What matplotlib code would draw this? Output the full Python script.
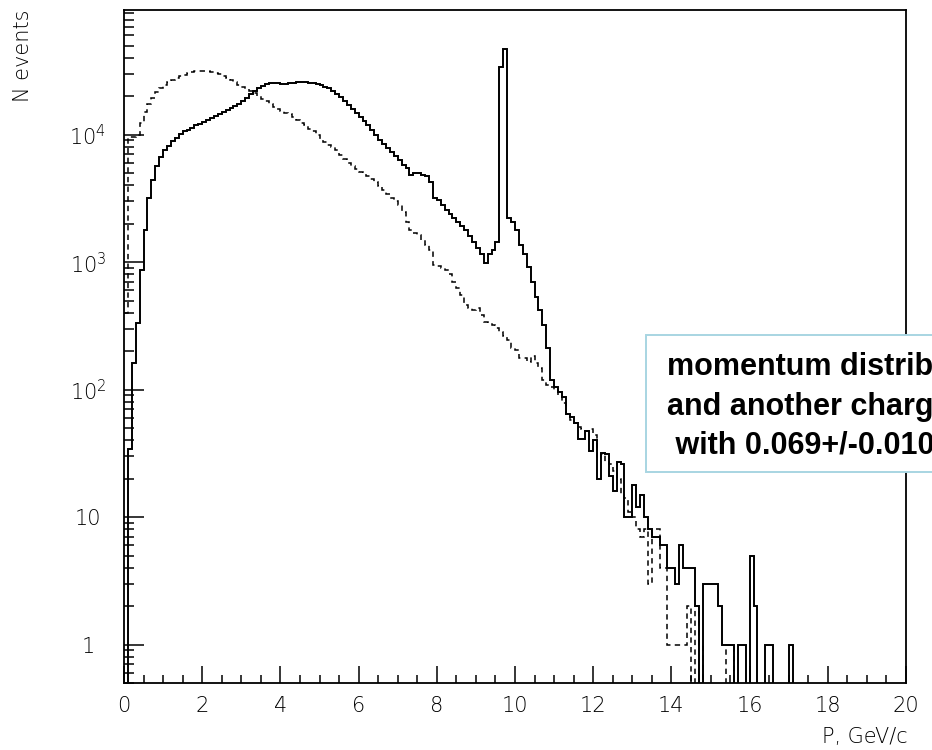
import numpy as np
import matplotlib
matplotlib.use("Agg")
import matplotlib.pyplot as plt
from matplotlib.patches import Rectangle
from matplotlib.ticker import LogLocator, FixedLocator, NullFormatter

# momentum bins, 0.1 GeV/c wide, 0..20 GeV/c
P_MIN = 0.0
BIN_W = 0.1
N_BINS = 200

# solid histogram (counts per bin)
solid = [
    0, 34, 163, 335, 875, 1800, 3200, 4440, 5720, 6720,
    7630, 8200, 8980, 9470, 10200, 10600, 10900, 11300, 11800, 12200,
    12600, 13100, 13600, 14100, 14600, 15100, 15700, 16300, 16900, 17500,
    18500, 19500, 21000, 22100, 23400, 24200, 25100, 25600, 25600, 25600,
    25100, 25100, 25600, 25600, 26000, 26000, 26000, 25600, 25600, 25100,
    24700, 23800, 23400, 22100, 21000, 19900, 18500, 17200, 16000, 14900,
    13800, 12900, 11800, 10900, 10000, 9140, 8500, 7910, 7360, 6840,
    6360, 5820, 5510, 4860, 5040, 5040, 4860, 4770, 4280, 3200,
    3090, 2820, 2580, 2400, 2230, 2080, 1930, 1800, 1610, 1450,
    1300, 1150, 990, 1150, 1250, 1450, 34100, 47300, 2230, 2080,
    1800, 1370, 1150, 920, 700, 536, 424, 323, 214, 120,
    104, 95, 88, 64, 61, 55, 41, 41, 47, 33,
    40, 20, 32, 31, 21, 16, 27, 26, 10, 10,
    18, 12, 15, 10, 8, 7, 7, 6, 6, 4,
    4, 3, 6, 4, 4, 4, 2, 0, 3, 3,
    3, 3, 2, 1, 1, 1, 0, 1, 1, 0,
    5, 2, 0, 0, 1, 1, 0, 0, 0, 0,
    1, 0, 0, 0, 0, 0, 0, 0, 0, 0,
    0, 0, 0, 0, 0, 0, 0, 0, 0, 0,
    0, 0, 0, 0, 0, 0, 0, 0, 0, 0,
]

# dashed histogram (counts per bin)
dashed = [
    402, 9650, 9650, 10000, 12400, 15100, 17500, 19500, 21700, 23400,
    24700, 26000, 27000, 28000, 29000, 29500, 30600, 31200, 31700, 31700,
    31700, 31700, 31200, 30600, 30100, 29000, 28000, 27000, 26000, 24700,
    23800, 22900, 22100, 21300, 20200, 19200, 18500, 17500, 16600, 16000,
    15400, 14900, 14400, 13800, 13100, 12400, 11800, 11100, 10600, 10000,
    9300, 8810, 8350, 8050, 7630, 6970, 6480, 6030, 5720, 5410,
    5130, 4940, 4770, 4520, 4280, 3980, 3700, 3450, 3200, 3040,
    2820, 2490, 2080, 1800, 1700, 1640, 1500, 1370, 1250, 955,
    940, 905, 875, 810, 700, 630, 555, 464, 440, 424,
    440, 387, 341, 335, 323, 306, 285, 265, 247, 214,
    206, 178, 178, 166, 182, 163, 149, 120, 109, 104,
    100, 91, 79, 64, 58, 55, 51, 49, 47, 49,
    44, 29, 31, 27, 26, 23, 20, 15, 14, 11,
    10, 8, 7, 8, 3, 8, 8, 4, 4, 1,
    1, 1, 1, 1, 2, 0, 2, 1, 0, 0,
    0, 0, 0, 0, 1, 1, 0, 0, 0, 0,
    0, 0, 0, 0, 0, 0, 0, 0, 0, 0,
    0, 0, 0, 0, 0, 0, 0, 0, 0, 0,
    0, 0, 0, 0, 0, 0, 0, 0, 0, 0,
    0, 0, 0, 0, 0, 0, 0, 0, 0, 0,
]

x_ticks = [0, 2, 4, 6, 8, 10, 12, 14, 16, 18, 20]
y_ticks = [1, 10, 100, 1000, 10000]
y_ticklabels = ["1", "10", r"$10^{2}$", r"$10^{3}$", r"$10^{4}$"]

# the note runs past the right edge of the picture, as in the original
note_lines = ["momentum distribution of",
              "and another charged particle",
              " with 0.069+/-0.010"]

plt.rcParams["font.family"] = ["DejaVu Sans"]
plt.rcParams["mathtext.default"] = "regular"

fig = plt.figure(figsize=(9.32, 7.5), dpi=100)
ax = fig.add_axes([124 / 932, 67 / 750, 782 / 932, 673 / 750])

edges = P_MIN + BIN_W * np.arange(N_BINS + 1)
# empty bins are pushed below the axis so the line drops to the bottom
s = np.array(solid, dtype=float)
d = np.array(dashed, dtype=float)
s[s <= 0] = 1e-3
d[d <= 0] = 1e-3

ax.stairs(d, edges, baseline=None, color="black", lw=1.1,
          linestyle=(0, (3.5, 2.8)))
ax.stairs(s, edges, baseline=None, color="black", lw=1.4)

ax.set_yscale("log")
ax.set_xlim(0, 20)
ax.set_ylim(0.5, 9.5e4)

ax.xaxis.set_major_locator(FixedLocator(x_ticks))
ax.xaxis.set_minor_locator(FixedLocator(np.arange(0, 20.01, 0.5)))
ax.set_xticklabels([str(v) for v in x_ticks])
ax.yaxis.set_major_locator(FixedLocator(y_ticks))
ax.set_yticklabels(y_ticklabels)
ax.yaxis.set_minor_locator(LogLocator(base=10, subs=np.arange(2, 10), numticks=20))
ax.yaxis.set_minor_formatter(NullFormatter())

ax.tick_params(axis="both", which="both", direction="in", top=False, right=False,
               width=1.1, labelsize=15)
ax.tick_params(axis="x", which="major", length=12, pad=9)
ax.tick_params(axis="x", which="minor", length=6)
ax.tick_params(axis="y", which="major", length=14.5, pad=26)
ax.tick_params(axis="y", which="minor", length=7.5)
plt.setp(ax.get_yticklabels(), ha="center")
for lab in ax.get_xticklabels() + ax.get_yticklabels():
    lab.set_fontweight("light")

for sp in ax.spines.values():
    sp.set_linewidth(1.3)

fig.text(23 / 932, 1 - 10 / 750, "N events", rotation=90, ha="center", va="top",
         fontsize=15, fontweight="light")
fig.text(908 / 932, 1 - 743 / 750, "P, GeV/c", ha="right", va="baseline",
         fontsize=15, fontweight="light")

# annotation box running off the right edge
box = Rectangle((645.5 / 932, 1 - 471.7 / 750), 400 / 932, 136.4 / 750,
                transform=fig.transFigure, facecolor="white",
                edgecolor="#a8d5e2", lw=1.4, zorder=5)
fig.add_artist(box)
for line, base in zip(note_lines, [375, 415, 453]):
    fig.text(667 / 932, 1 - base / 750, line, ha="left", va="baseline",
             fontsize=22, fontweight="bold", family=["Liberation Sans", "DejaVu Sans"],
             zorder=6)

fig.savefig("out.png", dpi=100)
